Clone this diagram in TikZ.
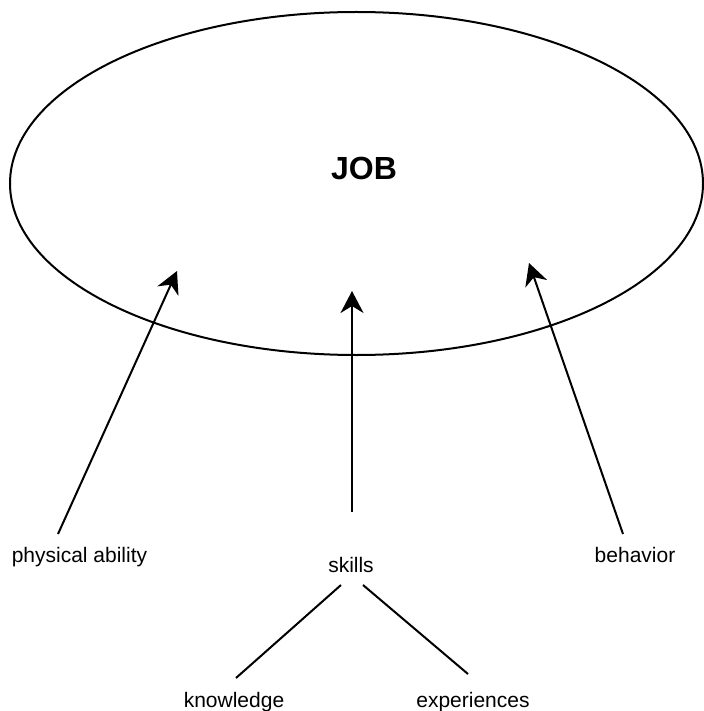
\documentclass[tikz,border=0pt]{standalone}
\usepackage{fontspec}
\setmainfont{Liberation Sans}
\usetikzlibrary{arrows.meta, positioning, shapes.geometric}

\begin{document}
\begin{tikzpicture}[x=0.5pt, y=-0.5pt, line width=1pt,
    lbl/.style={font=\fontsize{10.5}{12}\selectfont, inner sep=1pt, anchor=base},
    up/.style={-{Stealth[length=11pt, width=11.5pt, inset=3.5pt]}}]
  \useasboundingbox (0,0) rectangle (704,711);
  % the job
  \node[draw, ellipse, minimum width=346.5pt, minimum height=171.5pt, inner sep=0pt] (job) at (356.5,183.5) {};
  \node[font=\fontsize{16}{18}\selectfont\bfseries] (jobtext) at (364,168) {JOB};
  \coordinate (pahead) at (177,271);
  \coordinate (skhead) at (352,291);
  \coordinate (behead) at (529,263);
  % what the job asks for
  \node[lbl] (phys) at (79.5,562) {physical ability};
  \node[lbl] (skills) at (351,572) {skills};
  \node[lbl] (behav) at (635,562) {behavior};
  \node[lbl] (know) at (234,707) {knowledge};
  \node[lbl] (exper) at (473,707) {experiences};
  \draw[up] ([xshift=-10.75pt, yshift=14pt]phys.base) -- (pahead);
  \draw[up] ([yshift=30pt]skills.base -| skhead) -- (skhead);
  \draw[up] ([xshift=-6pt, yshift=14pt]behav.base) -- (behead);
  % skills from
  \draw ([xshift=-5pt, yshift=-6.5pt]skills.base) -- ([xshift=1pt, yshift=14.5pt]know.base);
  \draw ([xshift=6pt, yshift=-6.5pt]skills.base) -- ([xshift=-2.5pt, yshift=16.5pt]exper.base);
\end{tikzpicture}
\end{document}
